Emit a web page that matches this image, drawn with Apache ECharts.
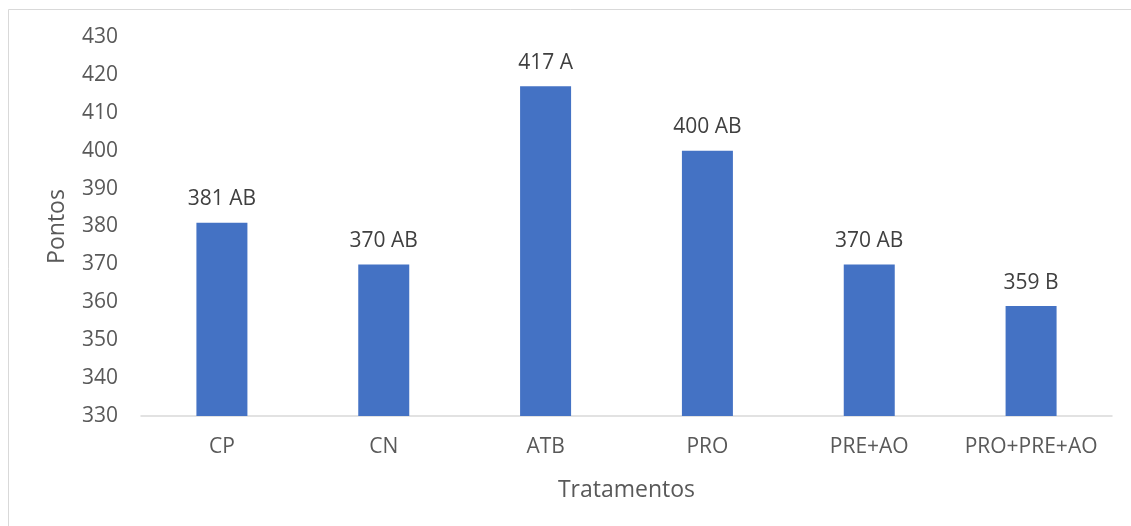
<!DOCTYPE html>
<html>
<head>
<meta charset="utf-8">
<script src="https://cdn.jsdelivr.net/npm/echarts@6/dist/echarts.min.js"></script>
<style>
  html, body { margin: 0; padding: 0; background: #fff; }
  #chart { width: 1131px; height: 526px; }
</style>
</head>
<body>
<div id="chart"></div>
<script>
// Treatments and their scores, with the significance letters shown above each bar
const categories = ['CP', 'CN', 'ATB', 'PRO', 'PRE+AO', 'PRO+PRE+AO'];
const scores = [381, 370, 417, 400, 370, 359];
const letters = ['AB', 'AB', 'A', 'AB', 'AB', 'B'];

const yMin = 330;
const yMax = 430;
const yStep = 10;

const FONT = '"Open Sans", "Noto Sans", sans-serif';
const TEXT = '#595959';

const chart = echarts.init(document.getElementById('chart'), null, { renderer: 'canvas' });

chart.setOption({
  animation: false,
  backgroundColor: '#fff',
  graphic: [{
    type: 'rect',
    shape: { x: 8.5, y: 9.5, width: 1140, height: 540 },
    style: { fill: 'none', stroke: '#d9d9d9', lineWidth: 1 },
    silent: true
  }],
  grid: { left: 141, right: 19, top: 37, bottom: 110 },
  xAxis: {
    type: 'category',
    data: categories,
    name: 'Tratamentos',
    nameLocation: 'middle',
    nameGap: 63,
    nameTextStyle: { fontFamily: FONT, fontSize: 23, color: TEXT },
    axisLine: { lineStyle: { color: '#d9d9d9', width: 1.5 } },
    axisTick: { show: false },
    axisLabel: { interval: 0, fontFamily: FONT, fontSize: 21, color: TEXT, margin: 21 }
  },
  yAxis: {
    type: 'value',
    min: yMin,
    max: yMax,
    interval: yStep,
    name: 'Pontos',
    nameLocation: 'middle',
    nameGap: 72,
    nameTextStyle: { fontFamily: FONT, fontSize: 23, color: TEXT },
    axisLine: { show: false },
    axisTick: { show: false },
    splitLine: { show: false },
    axisLabel: { fontFamily: FONT, fontSize: 21, color: TEXT, margin: 23 }
  },
  series: [{
    type: 'bar',
    data: scores,
    barWidth: 51,
    itemStyle: { color: '#4472c4' },
    label: {
      show: true,
      position: 'top',
      distance: 13,
      fontFamily: FONT,
      fontSize: 21,
      color: '#404040',
      formatter: p => p.value + ' ' + letters[p.dataIndex]
    }
  }]
});
</script>
</body>
</html>
